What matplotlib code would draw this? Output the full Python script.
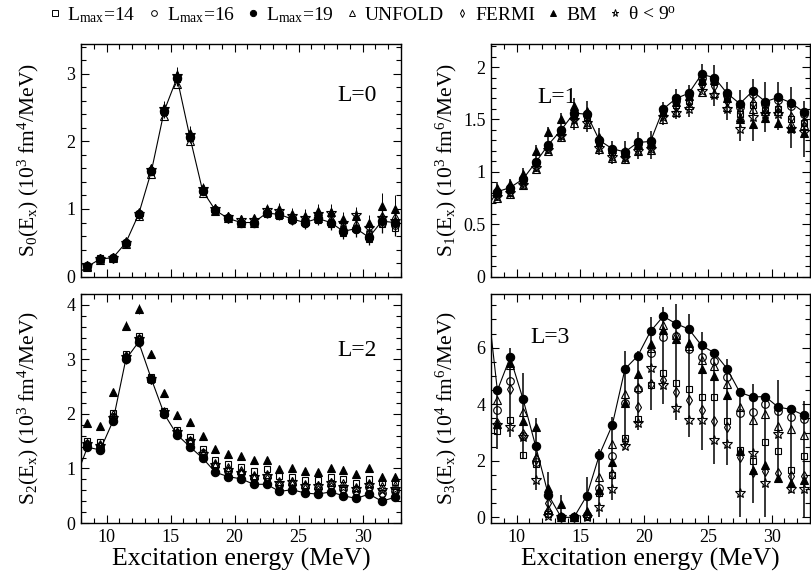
import matplotlib
matplotlib.use("Agg")
import matplotlib.pyplot as plt
from matplotlib.lines import Line2D
from matplotlib.ticker import MultipleLocator, FormatStrFormatter

plt.rcParams['font.family'] = ['Liberation Serif', 'DejaVu Serif']
plt.rcParams['mathtext.fontset'] = 'custom'
plt.rcParams['mathtext.rm'] = 'Liberation Serif'
plt.rcParams['mathtext.it'] = 'Liberation Serif:italic'
plt.rcParams['mathtext.bf'] = 'Liberation Serif:bold'

# Excitation-energy bins (MeV)
energy = [8.5, 9.5, 10.5, 11.5, 12.5, 13.5, 14.5, 15.5, 16.5, 17.5, 18.5, 19.5, 20.5,
          21.5, 22.5, 23.5, 24.5, 25.5, 26.5, 27.5, 28.5, 29.5, 30.5, 31.5, 32.5]
x_tick_major = [10, 15, 20, 25, 30]

# ---------------- L = 0 ----------------
l19_0 = [0.15, 0.26, 0.28, 0.50, 0.92, 1.56, 2.45, 2.94, 2.07, 1.27, 0.98, 0.86, 0.80,
         0.80, 0.94, 0.92, 0.85, 0.80, 0.86, 0.80, 0.67, 0.71, 0.58, 0.82, 0.80]
l14_0 = [0.15, 0.27, 0.28, 0.49, 0.92, 1.55, 2.43, 2.92, 2.05, 1.26, 0.97, 0.86, 0.79,
         0.79, 0.93, 0.90, 0.83, 0.79, 0.84, 0.78, 0.65, 0.70, 0.55, 0.78, 0.72]
l16_0 = [0.15, 0.26, 0.28, 0.50, 0.92, 1.56, 2.44, 2.93, 2.06, 1.27, 0.98, 0.86, 0.80,
         0.80, 0.94, 0.91, 0.84, 0.80, 0.85, 0.80, 0.66, 0.71, 0.57, 0.80, 0.76]
unfold_0 = [0.14, 0.25, 0.27, 0.48, 0.90, 1.52, 2.38, 2.85, 2.00, 1.24, 0.97, 0.86, 0.80,
            0.80, 0.95, 0.93, 0.86, 0.82, 0.87, 0.82, 0.70, 0.74, 0.62, 0.85, 0.82]
fermi_0 = [0.15, 0.26, 0.28, 0.50, 0.93, 1.57, 2.46, 2.95, 2.08, 1.28, 0.99, 0.87, 0.81,
           0.81, 0.96, 0.94, 0.87, 0.83, 0.88, 0.84, 0.72, 0.76, 0.64, 0.88, 0.86]
bm_0 = [0.16, 0.27, 0.29, 0.52, 0.95, 1.60, 2.50, 2.98, 2.12, 1.31, 1.02, 0.90, 0.85,
        0.86, 1.00, 1.00, 0.93, 0.90, 0.97, 0.96, 0.85, 0.90, 0.80, 1.05, 1.00]
star_0 = [0.15, 0.26, 0.28, 0.50, 0.93, 1.58, 2.48, 2.96, 2.10, 1.30, 1.00, 0.88, 0.83,
          0.84, 0.98, 0.97, 0.90, 0.86, 0.93, 0.94, 0.80, 0.91, 0.72, 0.86, 0.82]
err_0 = [0.03, 0.03, 0.03, 0.04, 0.05, 0.06, 0.10, 0.12, 0.10, 0.07, 0.05, 0.05, 0.05,
         0.06, 0.08, 0.09, 0.09, 0.10, 0.10, 0.11, 0.11, 0.13, 0.11, 0.18, 0.20]
curve_start_0 = 0.08

# ---------------- L = 1 ----------------
l19_1 = [0.81, 0.85, 0.93, 1.09, 1.26, 1.40, 1.56, 1.55, 1.30, 1.22, 1.19, 1.28, 1.29,
         1.60, 1.70, 1.75, 1.93, 1.90, 1.75, 1.65, 1.77, 1.67, 1.71, 1.66, 1.57]
l14_1 = [0.80, 0.83, 0.91, 1.09, 1.25, 1.38, 1.53, 1.52, 1.28, 1.19, 1.17, 1.25, 1.26,
         1.58, 1.64, 1.68, 1.86, 1.86, 1.70, 1.55, 1.64, 1.59, 1.60, 1.50, 1.47]
l16_1 = [0.80, 0.84, 0.92, 1.08, 1.25, 1.39, 1.55, 1.54, 1.29, 1.21, 1.18, 1.27, 1.28,
         1.59, 1.68, 1.73, 1.90, 1.88, 1.73, 1.62, 1.74, 1.65, 1.69, 1.63, 1.55]
unfold_1 = [0.75, 0.79, 0.87, 1.03, 1.20, 1.33, 1.47, 1.46, 1.22, 1.13, 1.12, 1.20, 1.21,
            1.50, 1.57, 1.64, 1.76, 1.75, 1.62, 1.52, 1.60, 1.58, 1.58, 1.46, 1.45]
fermi_1 = [0.78, 0.81, 0.90, 1.06, 1.23, 1.36, 1.51, 1.50, 1.26, 1.17, 1.15, 1.24, 1.25,
           1.55, 1.62, 1.67, 1.83, 1.82, 1.68, 1.58, 1.66, 1.60, 1.61, 1.52, 1.48]
bm_1 = [0.85, 0.88, 0.98, 1.20, 1.38, 1.50, 1.63, 1.58, 1.33, 1.22, 1.20, 1.27, 1.28,
        1.57, 1.67, 1.72, 1.88, 1.88, 1.70, 1.50, 1.46, 1.51, 1.47, 1.42, 1.37]
star_1 = [0.76, 0.80, 0.87, 1.04, 1.21, 1.34, 1.49, 1.47, 1.23, 1.14, 1.13, 1.20, 1.22,
          1.52, 1.56, 1.60, 1.77, 1.73, 1.60, 1.41, 1.52, 1.55, 1.55, 1.41, 1.38]
bar_lo_1 = [0.72, 0.76, 0.83, 1.00, 1.17, 1.28, 1.40, 1.38, 1.16, 1.07, 1.08, 1.12, 1.12,
            1.45, 1.50, 1.52, 1.75, 1.63, 1.49, 1.29, 1.29, 1.38, 1.40, 1.23, 1.14]
bar_hi_1 = [0.90, 0.93, 1.04, 1.26, 1.43, 1.56, 1.70, 1.68, 1.42, 1.29, 1.29, 1.38, 1.39,
            1.67, 1.79, 1.83, 2.03, 2.02, 1.86, 1.78, 1.89, 1.86, 1.86, 1.81, 1.68]
curve_start_1 = 0.72

# ---------------- L = 2 ----------------
l19_2 = [1.39, 1.34, 1.87, 3.00, 3.32, 2.64, 2.00, 1.62, 1.40, 1.19, 0.93, 0.85, 0.81,
         0.71, 0.71, 0.58, 0.61, 0.55, 0.53, 0.57, 0.50, 0.45, 0.53, 0.40, 0.47]
l14_2 = [1.50, 1.48, 2.02, 3.10, 3.43, 2.67, 2.05, 1.70, 1.57, 1.35, 1.15, 1.08, 1.03,
         0.96, 0.99, 0.86, 0.85, 0.78, 0.78, 0.84, 0.81, 0.73, 0.81, 0.76, 0.76]
l16_2 = [1.45, 1.42, 1.95, 3.05, 3.38, 2.65, 2.02, 1.65, 1.50, 1.28, 1.05, 0.95, 0.92,
         0.83, 0.85, 0.70, 0.72, 0.66, 0.64, 0.70, 0.63, 0.58, 0.66, 0.55, 0.58]
unfold_2 = [1.47, 1.45, 2.00, 3.08, 3.40, 2.66, 2.04, 1.67, 1.52, 1.30, 1.10, 1.02, 0.97,
            0.88, 0.90, 0.77, 0.77, 0.71, 0.70, 0.76, 0.73, 0.66, 0.74, 0.68, 0.70]
fermi_2 = [1.42, 1.40, 1.92, 3.03, 3.36, 2.64, 2.01, 1.64, 1.47, 1.25, 1.02, 0.93, 0.89,
           0.80, 0.81, 0.68, 0.69, 0.63, 0.61, 0.66, 0.60, 0.55, 0.62, 0.52, 0.56]
bm_2 = [1.84, 1.78, 2.40, 3.62, 3.92, 3.10, 2.38, 1.98, 1.85, 1.59, 1.36, 1.27, 1.23,
        1.16, 1.15, 0.99, 1.01, 0.96, 0.93, 1.00, 0.98, 0.90, 1.00, 0.84, 0.85]
star_2 = [1.44, 1.41, 1.93, 3.04, 3.37, 2.65, 2.03, 1.66, 1.50, 1.27, 1.06, 0.98, 0.92,
          0.85, 0.86, 0.74, 0.76, 0.68, 0.67, 0.73, 0.66, 0.62, 0.70, 0.60, 0.63]
err_2 = [0.05, 0.05, 0.06, 0.08, 0.09, 0.07, 0.06, 0.05, 0.05, 0.05, 0.05, 0.05, 0.05,
         0.05, 0.05, 0.05, 0.05, 0.05, 0.06, 0.06, 0.06, 0.06, 0.07, 0.07, 0.07]
curve_start_2 = 1.08

# ---------------- L = 3 ----------------
l19_3 = [4.49, 5.66, 4.20, 2.52, 0.79, 0.00, 0.00, 0.76, 2.22, 3.26, 5.25, 5.71, 6.58,
         7.11, 6.85, 6.66, 6.08, 5.82, 5.26, 4.42, 4.26, 4.27, 3.90, 3.82, 3.62]
l14_3 = [3.07, 3.44, 2.22, 1.90, 0.12, 0.00, 0.00, 0.02, 0.85, 1.49, 2.80, 3.49, 4.67,
         5.10, 4.75, 4.55, 4.24, 4.24, 3.40, 2.37, 1.99, 2.65, 2.34, 1.69, 2.18]
l16_3 = [3.78, 4.83, 2.87, 1.95, 0.15, 0.00, 0.00, 0.10, 1.05, 2.18, 4.05, 4.55, 5.82,
         6.38, 6.41, 5.95, 5.67, 5.53, 4.96, 3.69, 3.74, 4.02, 3.76, 3.55, 3.49]
unfold_3 = [4.15, 5.40, 3.73, 2.14, 0.30, 0.00, 0.00, 0.15, 1.44, 2.61, 4.35, 4.60, 6.00,
            6.79, 6.45, 6.05, 5.55, 5.34, 4.73, 3.90, 3.46, 3.64, 3.22, 3.14, 2.90]
fermi_3 = [3.35, 4.55, 2.95, 2.05, 0.49, 0.00, 0.00, 0.10, 0.90, 1.55, 2.70, 3.90, 4.70,
           4.85, 4.44, 4.16, 3.79, 3.41, 3.20, 2.14, 1.60, 1.65, 1.58, 1.45, 1.47]
bm_3 = [3.30, 5.45, 3.41, 3.20, 1.05, 0.46, 0.00, 0.22, 0.96, 1.96, 4.06, 5.08, 6.12,
        6.61, 6.32, 6.16, 5.24, 4.99, 4.32, 2.35, 1.69, 1.85, 1.38, 1.22, 1.32]
star_3 = [3.25, 3.20, 2.85, 1.32, 0.05, 0.00, 0.00, 0.00, 0.38, 1.02, 2.52, 3.32, 5.28,
          4.67, 3.88, 3.46, 3.44, 2.73, 2.61, 0.85, 2.26, 1.20, 2.94, 0.99, 0.99]
bar_lo_3 = [2.40, 2.85, 2.10, 0.96, 0.00, 0.00, 0.00, 0.00, 0.00, 0.60, 2.40, 3.10, 3.80,
            4.00, 3.44, 2.85, 2.38, 1.90, 1.85, 0.00, 0.50, 0.00, 1.20, 0.85, 0.00]
bar_hi_3 = [4.60, 6.00, 5.10, 3.50, 1.60, 0.80, 0.00, 1.44, 2.40, 3.55, 5.90, 5.90, 7.10,
            7.44, 7.55, 7.20, 6.55, 5.96, 5.60, 4.26, 4.70, 4.40, 4.85, 3.67, 4.10]
curve_start_3 = 6.5

# Marker styles for the seven decompositions
styles = [
    dict(label=r'L$_{\mathrm{max}}$=14', marker='s', mfc='none', ms=5.0),
    dict(label=r'L$_{\mathrm{max}}$=16', marker='o', mfc='none', ms=5.5),
    dict(label=r'L$_{\mathrm{max}}$=19', marker='o', mfc='k', ms=6.0),
    dict(label='UNFOLD', marker='^', mfc='none', ms=5.5),
    dict(label='FERMI', marker='d', mfc='none', ms=5.0),
    dict(label='BM', marker='^', mfc='k', ms=5.5),
    dict(label=r'$\mathrm{\theta}$ < 9$^{\mathrm{o}}$', marker='*', mfc='none', ms=7.0),
]

panels = [
    dict(series=[l14_0, l16_0, l19_0, unfold_0, fermi_0, bm_0, star_0], err=err_0,
         start=curve_start_0, ylim=(0, 3.44), major=1, minor=0.2, text='L=0',
         tpos=(0.862, 0.78),
         ylabel=r'S$_0$(E$_{\mathrm{x}}$) (10$^3$ fm$^4$/MeV)'),
    dict(series=[l14_1, l16_1, l19_1, unfold_1, fermi_1, bm_1, star_1],
         bars=(bar_lo_1, bar_hi_1), start=curve_start_1, ylim=(0, 2.22), major=0.5,
         minor=0.1, text='L=1', tpos=(0.207, 0.772),
         ylabel=r'S$_1$(E$_{\mathrm{x}}$) (10$^3$ fm$^6$/MeV)'),
    dict(series=[l14_2, l16_2, l19_2, unfold_2, fermi_2, bm_2, star_2], err=err_2,
         start=curve_start_2, ylim=(0, 4.2), major=1, minor=0.2, text='L=2',
         tpos=(0.862, 0.755),
         ylabel=r'S$_2$(E$_{\mathrm{x}}$) (10$^3$ fm$^4$/MeV)'),
    dict(series=[l14_3, l16_3, l19_3, unfold_3, fermi_3, bm_3, star_3],
         bars=(bar_lo_3, bar_hi_3), start=curve_start_3, ylim=(-0.2, 7.9), major=2,
         minor=0.5, text='L=3', tpos=(0.185, 0.81),
         ylabel=r'S$_3$(E$_{\mathrm{x}}$) (10$^4$ fm$^6$/MeV)'),
]

W, H = 811, 574
rects = [
    [81 / W, 1 - 276.6 / H, 320 / W, 232.6 / H],
    [491 / W, 1 - 276.6 / H, 319 / W, 232.6 / H],
    [81 / W, 1 - 523 / H, 320 / W, 229 / H],
    [491 / W, 1 - 523 / H, 319 / W, 229 / H],
]

fig = plt.figure(figsize=(W / 100, H / 100), dpi=100)

for i, (p, r) in enumerate(zip(panels, rects)):
    ax = fig.add_axes(r)
    # smooth trend through the L_max=19 results
    ax.plot([8.0] + energy, [p['start']] + p['series'][2], color='k', lw=0.8, zorder=2)
    if 'err' in p:
        ax.errorbar(energy, p['series'][2], yerr=p['err'], fmt='none', ecolor='k',
                    elinewidth=0.9, capsize=0, zorder=2)
        ax.errorbar(energy, p['series'][5], yerr=p['err'], fmt='none', ecolor='k',
                    elinewidth=0.7, capsize=0, zorder=2)
    if 'bars' in p:
        ax.vlines(energy, p['bars'][0], p['bars'][1], colors='k', lw=1.1, zorder=2)
    for vals, st in zip(p['series'], styles):
        ax.plot(energy, vals, ls='none', marker=st['marker'], mfc=st['mfc'],
                mec='k', mew=0.8, ms=st['ms'], zorder=3)
    ax.set_xlim(8, 33)
    ax.set_ylim(*p['ylim'])
    ax.xaxis.set_major_locator(MultipleLocator(5))
    ax.xaxis.set_minor_locator(MultipleLocator(1))
    ax.yaxis.set_major_locator(MultipleLocator(p['major']))
    ax.yaxis.set_minor_locator(MultipleLocator(p['minor']))
    ax.yaxis.set_major_formatter(FormatStrFormatter('%g'))
    ax.tick_params(which='both', direction='in', top=True, right=True, width=0.8,
                   labelsize=13, pad=4)
    ax.tick_params(which='major', length=6)
    ax.tick_params(which='minor', length=3.5)
    for s in ax.spines.values():
        s.set_linewidth(1.0)
    if i >= 2:
        ax.set_xticks(x_tick_major)
        ax.set_xlabel('Excitation energy (MeV)', fontsize=18.5)
        ax.xaxis.set_label_coords(0.5, -0.11)
    else:
        ax.tick_params(labelbottom=False)
    ax.set_ylabel(p['ylabel'], fontsize=15.5)
    ax.yaxis.set_label_coords(-0.125 if i % 2 == 0 else -0.10, 0.5)
    ax.text(p['tpos'][0], p['tpos'][1], p['text'], transform=ax.transAxes,
            fontsize=17, ha='center', va='center')

handles = [Line2D([], [], ls='none', marker=st['marker'], mfc=st['mfc'], mec='k',
                  mew=0.7, ms=st['ms'] * 0.75) for st in styles]
fig.legend(handles, [st['label'] for st in styles], loc='center',
           bbox_to_anchor=(0.447, 1 - 15 / H), ncol=7, frameon=False, fontsize=14,
           handlelength=0.6, handletextpad=0.35, columnspacing=0.65, borderpad=0.0)

fig.savefig('out.png', dpi=100)
